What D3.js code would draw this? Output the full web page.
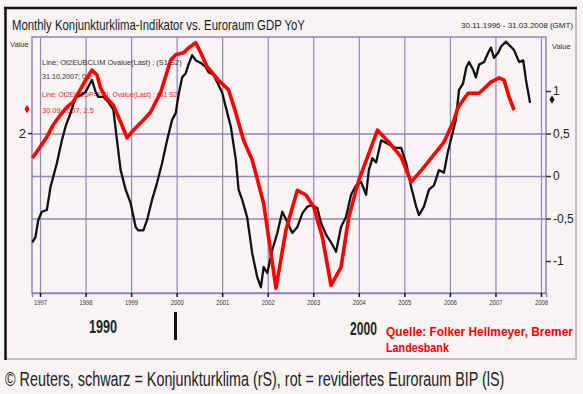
<!DOCTYPE html>
<html><head><meta charset="utf-8">
<script src="https://cdn.jsdelivr.net/npm/d3@7"></script>
<style>
html,body{margin:0;padding:0;background:#f8f4f4;}
svg{display:block;}
text{font-family:"Liberation Sans Narrow","Liberation Sans",Arial,sans-serif;}
</style></head><body>
<svg id="c" width="583" height="394"></svg>
<script>
// ---- data ----
const blackDates = [1996.83,1996.90,1996.96,1997.04,1997.15,1997.23,1997.29,1997.37,1997.48,1997.56,1997.67,1997.78,1997.89,1998.00,1998.06,1998.14,1998.22,1998.28,1998.39,1998.50,1998.61,1998.69,1998.77,1998.88,1998.99,1999.10,1999.16,1999.27,1999.35,1999.46,1999.57,1999.68,1999.79,1999.90,1999.98,2000.04,2000.12,2000.20,2000.26,2000.34,2000.42,2000.53,2000.64,2000.70,2000.81,2000.92,2001.00,2001.08,2001.19,2001.30,2001.36,2001.44,2001.55,2001.66,2001.77,2001.85,2001.91,2001.99,2002.10,2002.21,2002.32,2002.43,2002.54,2002.65,2002.76,2002.87,2002.98,2003.09,2003.17,2003.28,2003.39,2003.50,2003.61,2003.72,2003.83,2003.94,2004.05,2004.16,2004.22,2004.30,2004.38,2004.49,2004.60,2004.71,2004.82,2004.93,2005.04,2005.15,2005.26,2005.32,2005.43,2005.54,2005.65,2005.76,2005.87,2005.95,2006.06,2006.13,2006.20,2006.29,2006.36,2006.42,2006.51,2006.57,2006.64,2006.75,2006.84,2006.90,2006.97,2007.06,2007.12,2007.23,2007.34,2007.41,2007.52,2007.61,2007.67,2007.76];
const blackValues = [-0.78,-0.72,-0.52,-0.42,-0.40,-0.13,-0.01,0.15,0.42,0.58,0.74,0.92,0.95,0.99,1.05,1.13,0.99,0.93,0.93,0.87,0.78,0.42,0.07,-0.16,-0.32,-0.60,-0.64,-0.64,-0.52,-0.28,-0.08,0.15,0.42,0.66,0.74,0.95,1.16,1.21,1.31,1.42,1.36,1.33,1.28,1.22,1.19,1.07,0.98,0.81,0.58,0.19,-0.16,-0.28,-0.49,-0.91,-1.19,-1.31,-1.07,-1.14,-0.87,-0.67,-0.42,-0.54,-0.67,-0.60,-0.44,-0.36,-0.34,-0.38,-0.55,-0.69,-0.78,-0.89,-0.60,-0.48,-0.22,-0.11,-0.07,-0.22,0.07,0.21,0.16,0.42,0.39,0.36,0.33,0.33,0.15,-0.13,-0.36,-0.46,-0.36,-0.16,-0.11,0.07,0.04,0.27,0.51,0.66,1.01,1.09,1.28,1.34,1.25,1.16,1.31,1.34,1.45,1.51,1.39,1.45,1.52,1.58,1.52,1.48,1.34,1.36,1.13,0.86];
const redDates = [1996.83,1996.96,1997.15,1997.29,1997.45,1997.59,1997.73,1997.84,1998.00,1998.14,1998.25,1998.33,1998.44,1998.61,1998.77,1998.91,1999.05,1999.27,1999.43,1999.65,1999.87,1999.98,2000.15,2000.26,2000.42,2000.53,2000.67,2000.92,2001.14,2001.30,2001.47,2001.66,2001.91,2002.07,2002.18,2002.40,2002.65,2002.84,2003.01,2003.20,2003.39,2003.61,2003.78,2004.00,2004.19,2004.41,2004.66,2004.93,2005.15,2005.43,2005.87,2006.09,2006.18,2006.40,2006.64,2006.90,2007.08,2007.19,2007.30,2007.41];
const redValues = [1.48,1.65,1.92,2.17,2.38,2.54,2.65,2.83,3.10,3.31,3.21,2.94,2.75,2.58,2.23,1.90,2.06,2.27,2.44,2.85,3.52,3.63,3.67,3.77,3.88,3.67,3.38,3.10,2.90,2.42,1.85,1.44,0.54,-0.50,-1.23,-0.02,0.81,0.71,0.46,-0.17,-1.17,-0.79,0.25,1.02,1.50,2.06,1.81,1.50,0.98,1.29,1.81,2.27,2.54,2.83,2.83,3.06,3.15,3.10,2.75,2.48];
const xTickYears = [1997,1998,1999,2000,2001,2002,2003,2004,2005,2006,2007,2008];
const rightTicks = [1,0.5,0,-0.5,-1];
const rightTickLabels = ["1","0,5","0","-0,5","-1"];
const rightGrid = [0.5,0,-0.5];
const leftTicks = [2];
const blackLast = 0.9, redLast = 2.5;
const titleText = "Monthly Konjunkturklima-Indikator vs. Euroraum GDP YoY";
const rangeText = "30.11.1996 - 31.03.2008 (GMT)";
const legendBlack = ["Line; Ot2EUBCLIM Ovalue(Last) ; (S1 S2)", "31.10.2007; 0.9"];
const legendRed = ["Line; Ot2EUGDP=ECI, Ovalue(Last) ; (S1 S2)", "30.09.2007; 2.5"];
const sourceText = ["Quelle: Folker Hellmeyer, Bremer", "Landesbank"];
const captionText = "\u00a9 Reuters, schwarz = Konjunkturklima (rS), rot = revidiertes Euroraum BIP (lS)";

// ---- layout ----
const svg = d3.select("#c");
const L = 32, R = 546, T = 37, B = 293;
const x = d3.scaleLinear().domain([1996.824, 2008.11]).range([L, R]);
const yR = d3.scaleLinear().domain([-1.376, 1.635]).range([B, T]);
const yL = d3.scaleLinear().domain([-1.33, 4.0]).range([B, T]);
const grid = "#8f87b8";

// helper: horizontally squeeze a text to a given width
function squeeze(sel, x0, y0, w){
  const n = sel.node().getComputedTextLength();
  sel.attr("x",0).attr("y",0).attr("transform",`translate(${x0},${y0}) scale(${Math.min(1,w/n)},1)`);
}

// panel frame
svg.append("rect").attr("x",0).attr("y",0).attr("width",583).attr("height",394).attr("fill","#f8f4f4");
svg.append("line").attr("x1",576).attr("x2",576).attr("y1",8).attr("y2",359).attr("stroke","#c4c0c0").attr("stroke-width",2);
svg.append("line").attr("x1",5).attr("x2",577).attr("y1",359).attr("y2",359).attr("stroke","#c4c0c0").attr("stroke-width",2);
svg.append("line").attr("x1",4).attr("x2",577).attr("y1",8).attr("y2",8).attr("stroke","#111").attr("stroke-width",2.5);
svg.append("line").attr("x1",5.5).attr("x2",5.5).attr("y1",7).attr("y2",360).attr("stroke","#111").attr("stroke-width",2.5);

// title
squeeze(svg.append("text").attr("font-size",14).attr("fill","#1a1a1a").text(titleText), 12, 30, 293);
svg.append("text").attr("x",573).attr("y",28).attr("font-size",8).attr("fill","#222").attr("text-anchor","end")
  .text(rangeText);
svg.append("text").attr("x",10).attr("y",47).attr("font-size",7.5).attr("fill","#333").text("Value");
svg.append("text").attr("x",552).attr("y",49).attr("font-size",7.5).attr("fill","#333").text("Value");

// vertical gridlines
const gx = svg.append("g").attr("transform",`translate(0,${B})`)
  .call(d3.axisBottom(x).tickValues(xTickYears).tickSize(-(B-T)).tickFormat(""));
gx.select(".domain").remove();
gx.selectAll(".tick line").attr("stroke",grid).attr("stroke-width",1.2);

// horizontal gridlines
const gy = svg.append("g").attr("transform",`translate(${R},0)`)
  .call(d3.axisRight(yR).tickValues(rightGrid).tickSize(-(R-L)).tickFormat(""));
gy.select(".domain").remove();
gy.selectAll(".tick line").attr("stroke",grid).attr("stroke-width",1.5);

// plot frame
svg.append("rect").attr("x",L).attr("y",T).attr("width",R-L).attr("height",B-T)
  .attr("fill","none").attr("stroke",grid).attr("stroke-width",1.5);

// x axis labels + ticks
const ax = svg.append("g").attr("transform",`translate(0,${B})`)
  .call(d3.axisBottom(x).tickValues(xTickYears).tickSize(4).tickPadding(3).tickFormat(d3.format("d")));
ax.select(".domain").attr("stroke",grid).attr("stroke-width",1.5);
ax.selectAll(".tick line").attr("stroke","#111").attr("stroke-width",1.5);
ax.selectAll(".tick text").attr("font-size",7.5).attr("fill","#333")
  .attr("font-family","'Liberation Sans Narrow','Liberation Sans',Arial,sans-serif")
  .attr("textLength",13).attr("lengthAdjust","spacingAndGlyphs");

// right axis
const ar = svg.append("g").attr("transform",`translate(${R},0)`)
  .call(d3.axisRight(yR).tickValues(rightTicks).tickSize(5).tickPadding(2)
    .tickFormat((d,i)=>rightTickLabels[i]));
ar.select(".domain").remove();
ar.selectAll(".tick line").attr("stroke","#333").attr("stroke-width",1.5);
ar.selectAll(".tick text").attr("font-size",12).attr("fill","#222")
  .attr("font-family","'Liberation Sans Narrow','Liberation Sans',Arial,sans-serif");

// left axis
const al = svg.append("g").attr("transform",`translate(${L},0)`)
  .call(d3.axisLeft(yL).tickValues(leftTicks).tickSize(4).tickPadding(2).tickFormat(d3.format("d")));
al.select(".domain").remove();
al.selectAll(".tick line").attr("stroke","#333").attr("stroke-width",1.5);
al.selectAll(".tick text").attr("font-size",13).attr("fill","#222")
  .attr("font-family","'Liberation Sans Narrow','Liberation Sans',Arial,sans-serif");

// last-value markers
const diamond = d3.symbol().type(d3.symbolDiamond).size(22);
svg.append("path").attr("d",diamond).attr("fill","#ff0000")
  .attr("transform",`translate(${L-5},${yL(redLast)})`);
svg.append("path").attr("d",diamond).attr("fill","#111")
  .attr("transform",`translate(${R+6},${yR(blackLast)})`);

// legend text
squeeze(svg.append("text").attr("font-size",7.5).attr("fill","#333").text(legendBlack[0]), 42, 65, 140);
squeeze(svg.append("text").attr("font-size",7.5).attr("fill","#333").text(legendBlack[1]), 42, 79, 50);
squeeze(svg.append("text").attr("font-size",7.5).attr("fill","#ff2020").text(legendRed[0]), 42, 97, 138);
squeeze(svg.append("text").attr("font-size",7.5).attr("fill","#ff2020").text(legendRed[1]), 42, 113, 52);

// lines
const lineR = d3.line().x((d,i)=>x(redDates[i])).y(d=>yL(d));
const lineB = d3.line().x((d,i)=>x(blackDates[i])).y(d=>yR(d));
svg.append("path").datum(blackValues).attr("d",lineB).attr("fill","none")
  .attr("stroke","#111").attr("stroke-width",2.3).attr("stroke-linejoin","round");
svg.append("path").datum(redValues).attr("d",lineR).attr("fill","none")
  .attr("stroke","#ff0000").attr("stroke-width",3.6).attr("stroke-linejoin","round");

// annotations
squeeze(svg.append("text").attr("font-size",19).attr("font-weight","bold").attr("fill","#222").text("1990"), 89, 333, 28);
svg.append("rect").attr("x",174).attr("y",312).attr("width",3).attr("height",28).attr("fill","#111");
squeeze(svg.append("text").attr("font-size",19).attr("font-weight","bold").attr("fill","#222").text("2000"), 350, 335, 27);
squeeze(svg.append("text").attr("font-size",12).attr("font-weight","bold").attr("fill","#ff0000")
  .attr("font-family","'DejaVu Sans Mono',monospace").text(sourceText[0]), 386, 336, 187);
squeeze(svg.append("text").attr("font-size",12).attr("font-weight","bold").attr("fill","#ff0000")
  .attr("font-family","'DejaVu Sans Mono',monospace").text(sourceText[1]), 386, 352, 63);

// caption
squeeze(svg.append("text").attr("font-size",19.5).attr("fill","#222").text(captionText), 5, 386, 500);
</script>
</body></html>
